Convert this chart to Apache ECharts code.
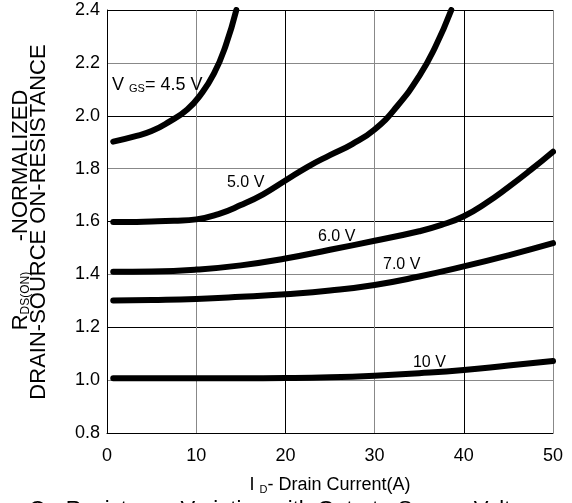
<!DOCTYPE html>
<html>
<head>
<meta charset="utf-8">
<script src="https://cdn.jsdelivr.net/npm/echarts@6/dist/echarts.min.js"></script>
<style>
  html, body { margin: 0; padding: 0; background: #fff; }
  #main { width: 572px; height: 503px; }
</style>
</head>
<body>
<div id="main"></div>
<script>
// curves: [I_D (A), normalized R_DS(on)]
var vgs45 = [[0.7, 1.902], [3, 1.921], [5, 1.942], [7, 1.978], [9, 2.024], [10.5, 2.08], [12, 2.16], [13.3, 2.265], [14.5, 2.4]];
var vgs50 = [[0.7, 1.598], [2.5, 1.598], [5, 1.6], [7.5, 1.603], [10, 1.608], [12.5, 1.628], [15, 1.662], [17.5, 1.703], [20, 1.755], [22.5, 1.807], [25, 1.851], [27.5, 1.893], [30, 1.948], [32.5, 2.035], [35, 2.15], [36.8, 2.26], [38.6, 2.4]];
var vgs60 = [[0.7, 1.41], [5, 1.411], [10, 1.418], [15, 1.434], [20, 1.46], [25, 1.493], [30, 1.527], [35, 1.563], [37.5, 1.587], [40, 1.62], [42.5, 1.67], [45, 1.73], [47.5, 1.795], [50, 1.864]];
var vgs70 = [[0.7, 1.301], [5, 1.303], [10, 1.307], [15, 1.315], [20, 1.325], [25, 1.339], [30, 1.36], [35, 1.392], [40, 1.43], [45, 1.472], [50, 1.518]];
var vgs10 = [[0.7, 1.007], [5, 1.007], [10, 1.007], [15, 1.007], [20, 1.008], [25, 1.011], [30, 1.017], [35, 1.026], [40, 1.038], [45, 1.055], [50, 1.072]];

var curveNames = ['4.5 V', '5.0 V', '6.0 V', '7.0 V', '10 V'];
var curveData = [vgs45, vgs50, vgs60, vgs70, vgs10];

// curve labels: [x, y, text]
var notes = [
  [0.56, 2.116, '{v|V }{sub|GS}{v|= 4.5 V}'],
  [13.45, 1.748, '5.0 V'],
  [23.65, 1.543, '6.0 V'],
  [30.94, 1.436, '7.0 V'],
  [34.3, 1.065, '10 V']
];

var xTicks = { min: 0, max: 50, step: 10 };
var yTicks = { min: 0.8, max: 2.4, step: 0.2 };

var font = 'Liberation Sans, Arial, sans-serif';
var myChart = echarts.init(document.getElementById('main'));

var series = curveData.map(function (d, i) {
  return {
    name: curveNames[i],
    type: 'line',
    data: d,
    smooth: 0.5,
    showSymbol: false,
    symbol: 'none',
    lineStyle: { color: '#000', width: 6, cap: 'round', join: 'round' },
    z: 3
  };
});

series.push({
  type: 'scatter',
  data: notes,
  symbolSize: 0,
  silent: true,
  itemStyle: { opacity: 1 },
  label: {
    show: true,
    position: 'right',
    distance: 0,
    color: '#000',
    opacity: 1,
    fontFamily: font,
    fontSize: 16,
    formatter: function (p) { return p.data[2]; },
    rich: {
      v: { fontSize: 18, fontFamily: font, color: '#000' },
      sub: { fontSize: 11, fontFamily: font, color: '#000', verticalAlign: 'bottom', padding: [8, 0, 0, 0] }
    }
  },
  z: 4
});

var option = {
  animation: false,
  grid: { left: 107, right: 19, top: 10, bottom: 70 },
  xAxis: {
    type: 'value',
    min: xTicks.min,
    max: xTicks.max,
    interval: xTicks.step,
    axisLine: { show: true, lineStyle: { color: '#000', width: 1 } },
    axisTick: { show: false },
    axisLabel: { color: '#000', fontSize: 18, fontFamily: font, margin: 14 },
    splitLine: { show: true, lineStyle: { color: ['#000', '#888'], width: 1 } },
    name: '{i|I }{sub|D}{i|- Drain Current(A)}',
    nameLocation: 'middle',
    nameGap: 43,
    nameTextStyle: {
      rich: {
        i: { fontSize: 18, fontFamily: font, color: '#000' },
        sub: { fontSize: 11, fontFamily: font, color: '#000', verticalAlign: 'bottom', padding: [8, 0, 0, 0] }
      }
    }
  },
  yAxis: {
    type: 'value',
    min: yTicks.min,
    max: yTicks.max,
    interval: yTicks.step,
    axisLine: { show: true, lineStyle: { color: '#000', width: 1 } },
    axisTick: { show: false },
    axisLabel: {
      color: '#000', fontSize: 18, fontFamily: font, margin: 7,
      formatter: function (v) { return v.toFixed(1); }
    },
    splitLine: { show: true, lineStyle: { color: ['#000', '#888'], width: 1 } }
  },
  graphic: [
    {
      type: 'text',
      x: 21, y: 210,
      rotation: Math.PI / 2,
      style: {
        text: '{r|R}{sub|DS(ON)}{r|     -NORMALIZED}',
        align: 'center',
        verticalAlign: 'middle',
        rich: {
          r: { fontSize: 22, fontFamily: font, fill: '#000' },
          sub: { fontSize: 12, fontFamily: font, fill: '#000', verticalAlign: 'bottom', padding: [9, 0, 0, 0] }
        }
      }
    },
    {
      type: 'text',
      x: 39, y: 222,
      rotation: Math.PI / 2,
      style: {
        text: 'DRAIN-SOURCE ON-RESISTANCE',
        align: 'center',
        verticalAlign: 'middle',
        fontSize: 22,
        fontFamily: font,
        fill: '#000'
      }
    },
    {
      type: 'text',
      x: 29, y: 499,
      style: {
        text: 'On-Resistance Variation with Gate-to-Source Voltage',
        align: 'left',
        verticalAlign: 'top',
        fontSize: 22,
        fontFamily: font,
        fill: '#000'
      }
    }
  ],
  series: series
};

myChart.setOption(option);
</script>
</body>
</html>
